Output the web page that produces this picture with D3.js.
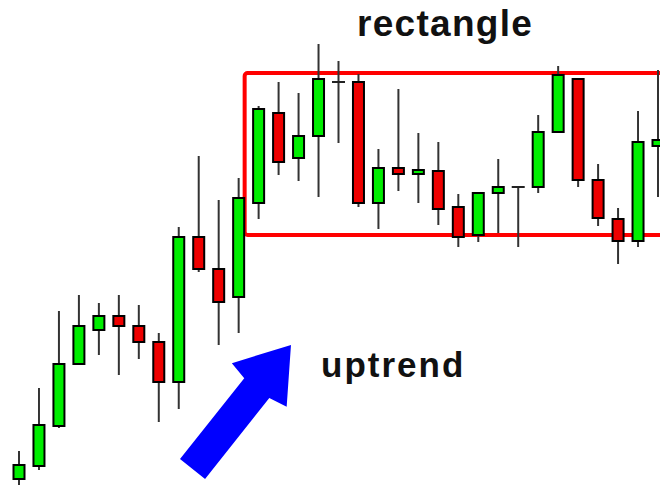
<!DOCTYPE html>
<html>
<head>
<meta charset="utf-8">
<script src="https://cdn.jsdelivr.net/npm/d3@7"></script>
<style>
  html, body { margin: 0; padding: 0; background: #fff; }
  svg { display: block; }
  .label { font-family: "Liberation Sans", Arial, sans-serif; font-weight: bold; fill: #111; }
</style>
</head>
<body>
<div id="chart"></div>
<script>
// candle data (price quotes), one entry per bar
const opens  = [1.1011, 1.1024, 1.1064, 1.1126, 1.1160, 1.1174, 1.1164, 1.1148, 1.1108, 1.1253, 1.1221,
                1.1193, 1.1287, 1.1377, 1.1332, 1.1354, 1.1408, 1.1408, 1.1287, 1.1322, 1.1316, 1.1319,
                1.1283, 1.1255, 1.1297, 1.1303, 1.1303, 1.1358, 1.1411, 1.1310, 1.1271, 1.1249, 1.1344];
const highs  = [1.1039, 1.1102, 1.1179, 1.1195, 1.1187, 1.1195, 1.1185, 1.1157, 1.1263, 1.1334, 1.1290,
                1.1312, 1.1384, 1.1408, 1.1397, 1.1446, 1.1429, 1.1416, 1.1341, 1.1401, 1.1357, 1.1348,
                1.1296, 1.1297, 1.1331, 1.1303, 1.1375, 1.1424, 1.1411, 1.1326, 1.1282, 1.1379, 1.1420];
const lows   = [1.1005, 1.1020, 1.1062, 1.1126, 1.1135, 1.1115, 1.1131, 1.1068, 1.1081, 1.1218, 1.1145,
                1.1157, 1.1271, 1.1315, 1.1309, 1.1293, 1.1347, 1.1283, 1.1261, 1.1299, 1.1287, 1.1265,
                1.1243, 1.1248, 1.1257, 1.1243, 1.1297, 1.1358, 1.1303, 1.1264, 1.1226, 1.1243, 1.1293];
const closes = [1.1025, 1.1065, 1.1126, 1.1164, 1.1174, 1.1164, 1.1148, 1.1108, 1.1253, 1.1221, 1.1188,
                1.1292, 1.1381, 1.1328, 1.1354, 1.1411, 1.1408, 1.1287, 1.1322, 1.1316, 1.1320, 1.1281,
                1.1253, 1.1297, 1.1303, 1.1303, 1.1358, 1.1415, 1.1310, 1.1272, 1.1249, 1.1348, 1.1350];

// rectangle (range) annotation: bar index span and price levels
const rangeStart = 12.3;
const rangeEnd = 35;
const rangeTop = 1.1417;
const rangeBottom = 1.1255;

// uptrend arrow, from tail to tip in (bar index, price)
const arrowFrom = [9.69, 1.1021];
const arrowTo = [14.62, 1.1145];

const width = 660;
const height = 486;

const candles = opens.map((o, i) => ({
    i: i + 1, open: o, high: highs[i], low: lows[i], close: closes[i]
}));

const svg = d3.select('#chart')
    .append('svg')
    .attr('width', width)
    .attr('height', height);

const x = d3.scaleLinear()
    .domain([1, 33])
    .range([19, 658]);

const y = d3.scaleLinear()
    .domain([1.1000, 1.1490])
    .range([490, 0]);

const bodyW = 11;
const green = '#00ee00';
const red = '#ee0000';

// range box
svg.append('rect')
    .attr('x', x(rangeStart))
    .attr('y', y(rangeTop))
    .attr('width', x(rangeEnd) - x(rangeStart))
    .attr('height', y(rangeBottom) - y(rangeTop))
    .attr('rx', 3)
    .attr('fill', 'none')
    .attr('stroke', '#ff0000')
    .attr('stroke-width', 4);

const g = svg.append('g');

// wicks
g.selectAll('line.wick')
    .data(candles)
    .join('line')
    .attr('class', 'wick')
    .attr('x1', d => x(d.i))
    .attr('x2', d => x(d.i))
    .attr('y1', d => y(d.high))
    .attr('y2', d => y(d.low))
    .attr('stroke', '#333')
    .attr('stroke-width', 2);

// bodies
g.selectAll('rect.body')
    .data(candles.filter(d => d.open !== d.close))
    .join('rect')
    .attr('class', 'body')
    .attr('x', d => x(d.i) - bodyW / 2)
    .attr('y', d => y(Math.max(d.open, d.close)))
    .attr('width', bodyW)
    .attr('height', d => Math.abs(y(d.open) - y(d.close)))
    .attr('fill', d => d.close > d.open ? green : red)
    .attr('stroke', '#000')
    .attr('stroke-width', 2);

// doji bars
g.selectAll('line.doji')
    .data(candles.filter(d => d.open === d.close))
    .join('line')
    .attr('class', 'doji')
    .attr('x1', d => x(d.i) - bodyW / 2 - 1)
    .attr('x2', d => x(d.i) + bodyW / 2 + 1)
    .attr('y1', d => y(d.open))
    .attr('y2', d => y(d.open))
    .attr('stroke', '#222')
    .attr('stroke-width', 2);

// arrow
const p0 = [x(arrowFrom[0]), y(arrowFrom[1])];
const p1 = [x(arrowTo[0]), y(arrowTo[1])];
const len = Math.hypot(p1[0] - p0[0], p1[1] - p0[1]);
const ux = (p1[0] - p0[0]) / len, uy = (p1[1] - p0[1]) / len;
const px = -uy, py = ux;
const shaft = 16, head = 35, headLen = 51, notch = 55;
const at = (along, side) => [p0[0] + ux * along + px * side, p0[1] + uy * along + py * side];
const arrowPts = [
    at(0, -shaft), at(len - notch, -shaft), at(len - headLen, -head), at(len, 0),
    at(len - headLen, head), at(len - notch, shaft), at(0, shaft)
];
svg.append('path')
    .attr('d', d3.line()(arrowPts) + 'Z')
    .attr('fill', '#0000ff');

// labels
svg.append('text')
    .attr('class', 'label')
    .attr('x', 357)
    .attr('y', 36)
    .style('font-size', '37px')
    .style('letter-spacing', '1.3px')
    .text('rectangle');

svg.append('text')
    .attr('class', 'label')
    .attr('x', 321)
    .attr('y', 377)
    .style('font-size', '35px')
    .style('letter-spacing', '2px')
    .text('uptrend');
</script>
</body>
</html>
